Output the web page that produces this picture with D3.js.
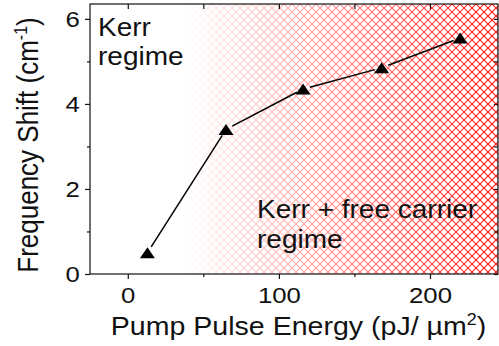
<!DOCTYPE html>
<html>
<head>
<meta charset="utf-8">
<script src="https://cdn.jsdelivr.net/npm/d3@7"></script>
<style>
  body { margin: 0; background: #fff; }
  text { font-family: "Liberation Sans", Arial, sans-serif; fill: #111; }
</style>
</head>
<body>
<div id="chart"></div>
<script>
const width = 499, height = 346
const margin = { top: 4, right: 1, bottom: 72, left: 90 }

// data
const energy = [13, 65, 116, 168, 220]        // pJ/um^2
const shift = [0.5, 3.4, 4.35, 4.85, 5.55]    // cm^-1
const xMajor = [0, 100, 200]
const xMinor = [50, 150]
const yMajor = [0, 2, 4, 6]
const yMinor = [1, 3, 5]

// text in the picture is a bit wider than plain Arial
const sx = 1.12

const svg = d3.select("#chart")
    .append("svg")
    .attr("width", width)
    .attr("height", height)

const x = d3.scaleLinear()
    .domain([-25, 245])
    .range([margin.left, width - margin.right])

const y = d3.scaleLinear()
    .domain([0, 6.35])
    .range([height - margin.bottom, margin.top])

const defs = svg.append("defs")

//cross hatch pattern
const pat = defs.append("pattern")
    .attr("id", "hatch")
    .attr("patternUnits", "userSpaceOnUse")
    .attr("width", 8)
    .attr("height", 8)
pat.append("path")
    .attr("d", "M-2,-2 L10,10 M10,-2 L-2,10")
    .attr("stroke", "#ff1010")
    .attr("stroke-width", 1.1)

//fades the hatch in from the left
const grad = defs.append("linearGradient")
    .attr("id", "fade")
    .attr("gradientUnits", "userSpaceOnUse")
    .attr("x1", x(38)).attr("x2", x(245))
    .attr("y1", 0).attr("y2", 0)
grad.append("stop").attr("offset", 0).attr("stop-color", "#fff").attr("stop-opacity", 0)
grad.append("stop").attr("offset", 1).attr("stop-color", "#fff").attr("stop-opacity", 1)

const mask = defs.append("mask").attr("id", "fadeMask")
mask.append("rect")
    .attr("x", x(38)).attr("y", y(6.35))
    .attr("width", x(245) - x(38))
    .attr("height", y(0) - y(6.35))
    .attr("fill", "url(#fade)")

svg.append("rect")
    .attr("x", x(38)).attr("y", y(6.35))
    .attr("width", x(245) - x(38))
    .attr("height", y(0) - y(6.35))
    .attr("fill", "url(#hatch)")
    .attr("mask", "url(#fadeMask)")

//frame
svg.append("rect")
    .attr("x", x(-25)).attr("y", y(6.35))
    .attr("width", x(245) - x(-25))
    .attr("height", y(0) - y(6.35))
    .attr("fill", "none")
    .attr("stroke", "#111")
    .attr("stroke-width", 1.2)

function styleAxis(g) {
    g.select(".domain").remove()
    g.selectAll(".tick line").attr("stroke", "#111").attr("stroke-width", 1.2)
    g.selectAll("text")
        .attr("font-size", 23)
        .attr("font-family", "Liberation Sans, Arial, sans-serif")
        .attr("fill", "#111")
}

// bottom axis
svg.append("g")
    .attr("transform", `translate(0,${y(0)})`)
    .call(d3.axisBottom(x).tickValues(xMajor).tickFormat(d3.format("d")).tickSize(5).tickPadding(8))
    .call(styleAxis)
    .selectAll("text").attr("transform", `scale(${sx},1)`)
svg.append("g")
    .attr("transform", `translate(0,${y(0)})`)
    .call(d3.axisBottom(x).tickValues(xMinor).tickSize(3).tickFormat(""))
    .call(styleAxis)

// top axis, ticks inside
svg.append("g")
    .attr("transform", `translate(0,${y(6.35)})`)
    .call(d3.axisTop(x).tickValues(xMajor.concat(xMinor)).tickSize(-5).tickFormat(""))
    .call(styleAxis)

// left axis
svg.append("g")
    .attr("transform", `translate(${x(-25)},0)`)
    .call(d3.axisLeft(y).tickValues(yMajor).tickFormat(d3.format("d")).tickSize(5).tickPadding(4))
    .call(styleAxis)
    .selectAll("text").attr("transform", `scale(${sx},1)`)
svg.append("g")
    .attr("transform", `translate(${x(-25)},0)`)
    .call(d3.axisLeft(y).tickValues(yMinor).tickSize(3).tickFormat(""))
    .call(styleAxis)

// right axis, ticks inside
svg.append("g")
    .attr("transform", `translate(${x(245)},0)`)
    .call(d3.axisRight(y).tickValues(yMajor.concat(yMinor)).tickSize(-4).tickFormat(""))
    .call(styleAxis)

//line, broken near the markers
const pts = energy.map((e, i) => [x(e), y(shift[i])])
const gap = 7
const segs = []
for (let i = 0; i < pts.length - 1; i++) {
    const [x0, y0] = pts[i], [x1, y1] = pts[i + 1]
    const len = Math.hypot(x1 - x0, y1 - y0)
    const ux = (x1 - x0) / len, uy = (y1 - y0) / len
    segs.push([[x0 + ux * gap, y0 + uy * gap], [x1 - ux * gap, y1 - uy * gap]])
}
svg.append("g")
    .selectAll("line")
    .data(segs)
    .join("line")
    .attr("x1", d => d[0][0]).attr("y1", d => d[0][1])
    .attr("x2", d => d[1][0]).attr("y2", d => d[1][1])
    .attr("stroke", "#000")
    .attr("stroke-width", 1.5)

//triangle markers
const tw = 15, th = 11
svg.append("g")
    .selectAll("path")
    .data(energy.map((e, i) => [e, shift[i]]))
    .join("path")
    .attr("transform", d => `translate(${x(d[0])},${y(d[1])})`)
    .attr("d", `M0,${-th / 2} L${tw / 2},${th / 2} L${-tw / 2},${th / 2} Z`)
    .attr("fill", "#000")

//axis titles
const xt = svg.append("text")
    .attr("transform", `translate(${x(113)},335) scale(${sx},1)`)
    .attr("text-anchor", "middle")
    .attr("font-size", 25.5)
xt.append("tspan").text("Pump Pulse Energy (pJ/ µm")
xt.append("tspan").attr("font-size", 16).attr("dy", -10).text("2")
xt.append("tspan").attr("dy", 10).text(")")

const yt = svg.append("text")
    .attr("transform", `translate(38,145) rotate(-90) scale(1,${sx})`)
    .attr("text-anchor", "middle")
    .attr("font-size", 26)
yt.append("tspan").text("Frequency Shift (cm")
yt.append("tspan").attr("font-size", 16).attr("dy", -10).text("-1")
yt.append("tspan").attr("dy", 10).text(")")

//regime labels
const notes = [
    { t: "Kerr", x: 98, y: 36 },
    { t: "regime", x: 98, y: 65 },
    { t: "Kerr + free carrier", x: 257, y: 218 },
    { t: "regime", x: 257, y: 248 }
]
svg.append("g")
    .selectAll("text")
    .data(notes)
    .join("text")
    .attr("transform", d => `translate(${d.x},${d.y}) scale(${sx},1)`)
    .attr("font-size", 25)
    .attr("fill", "#1a1a1a")
    .text(d => d.t)
</script>
</body>
</html>
